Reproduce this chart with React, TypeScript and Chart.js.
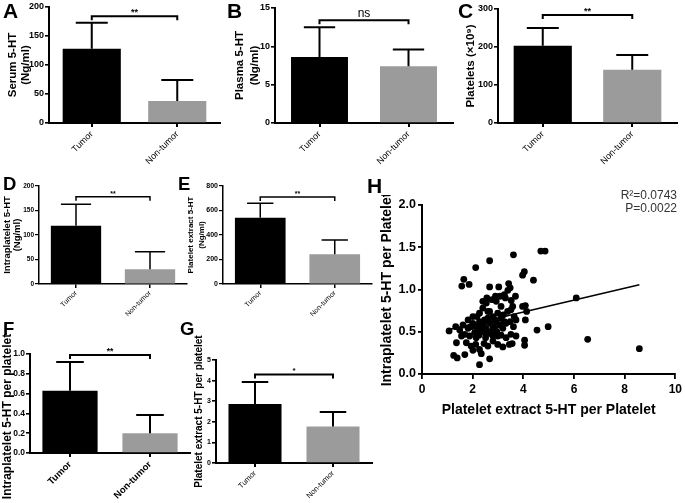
import React, { useEffect, useRef } from "react";
import { Chart, registerables } from "chart.js";

Chart.register(...registerables);

const FONT = "Arial, 'Liberation Sans', Helvetica, sans-serif";
Chart.defaults.font.family = FONT;
Chart.defaults.color = "#000";

// ---------- data ----------
const categories = ["Tumor", "Non-tumor"];
const barColors = ["#000000", "#9b9b9b"];

// A: Serum 5-HT
const serumMean = [128, 38];
const serumUpper = [173, 74];
const serumBracket = 184;
const serumSig = "**";
const serumTicks = [0, 50, 100, 150, 200];

// B: Plasma 5-HT
const plasmaMean = [8.6, 7.4];
const plasmaUpper = [12.5, 9.6];
const plasmaBracket = 13.4;
const plasmaSig = "ns";
const plasmaTicks = [0, 5, 10, 15];

// C: Platelets
const plateletMean = [203, 140];
const plateletUpper = [250, 179];
const plateletBracket = 284;
const plateletSig = "**";
const plateletTicks = [0, 100, 200, 300];

// D: Intraplatelet 5-HT
const intraMean = [119, 30];
const intraUpper = [163, 66];
const intraBracket = 178;
const intraSig = "**";
const intraTicks = [0, 50, 100, 150, 200];

// E: Platelet extract 5-HT
const extractMean = [540, 243];
const extractUpper = [660, 360];
const extractBracket = 710;
const extractSig = "**";
const extractTicks = [0, 200, 400, 600, 800];

// F: Intraplatelet 5-HT per platelet
const intraPerMean = [0.63, 0.2];
const intraPerUpper = [0.92, 0.385];
const intraPerBracket = 0.99;
const intraPerSig = "**";
const intraPerTicks = [0, 0.2, 0.4, 0.6, 0.8, 1.0];

// G: Platelet extract 5-HT per platelet
const extractPerMean = [2.87, 1.77];
const extractPerUpper = [3.93, 2.48];
const extractPerBracket = 4.3;
const extractPerSig = "*";
const extractPerTicks = [0, 1, 2, 3, 4, 5];

// H: scatter
const hPoints: [number, number][] = [
  [4.69, 1.455], [4.86, 1.455], [3.61, 1.41], [2.67, 1.34], [2.12, 1.26], [4.04, 1.21], [3.97, 1.17],
  [4.40, 1.11], [1.65, 1.12], [1.57, 1.04], [1.86, 1.06], [2.67, 1.03], [3.03, 1.03], [3.42, 1.07],
  [3.48, 1.02], [6.09, 0.90], [6.54, 0.41], [8.58, 0.30], [4.54, 0.52], [4.98, 0.56],
  [2.40, 0.86], [2.56, 0.90], [2.77, 0.88], [2.90, 0.92], [3.08, 0.92], [3.25, 0.94], [3.39, 0.99],
  [3.52, 0.87], [3.69, 0.92], [3.29, 0.90], [3.58, 0.80], [4.08, 0.81], [4.13, 0.74], [3.97, 0.80],
  [1.82, 0.64], [2.17, 0.68], [2.40, 0.78], [2.60, 0.74], [2.80, 0.68], [2.99, 0.72], [3.21, 0.70],
  [3.38, 0.74], [3.51, 0.76], [3.64, 0.68], [4.08, 0.64], [3.71, 0.64],
  [1.33, 0.56], [1.49, 0.52], [1.62, 0.58], [1.82, 0.54], [2.01, 0.60], [2.14, 0.56], [2.27, 0.62],
  [2.43, 0.58], [2.54, 0.53], [2.67, 0.60], [2.80, 0.56], [2.93, 0.62], [3.06, 0.58], [3.19, 0.54],
  [3.32, 0.60], [3.48, 0.62], [3.61, 0.56],
  [1.07, 0.51], [1.69, 0.47], [1.88, 0.45], [2.08, 0.49], [2.25, 0.46], [2.38, 0.50], [2.51, 0.43],
  [2.64, 0.48], [2.80, 0.45], [2.95, 0.50], [3.12, 0.46], [3.32, 0.43], [3.51, 0.47], [3.71, 0.45],
  [1.36, 0.37], [1.75, 0.37], [1.94, 0.33], [2.12, 0.35], [2.27, 0.29], [2.45, 0.36], [2.60, 0.33],
  [2.80, 0.39], [2.99, 0.35], [3.19, 0.32], [3.45, 0.35], [3.56, 0.36], [4.05, 0.40], [4.05, 0.34],
  [2.01, 0.28], [2.34, 0.24],
  [1.25, 0.22], [1.39, 0.19], [1.69, 0.23], [2.67, 0.18], [2.27, 0.11],
  [2.21, 0.52], [2.47, 0.64], [2.60, 0.66], [2.86, 0.64], [2.34, 0.56], [2.73, 0.50], [2.99, 0.45],
  [2.54, 0.49], [2.86, 0.54], [3.12, 0.66], [3.25, 0.62], [2.14, 0.43], [1.94, 0.56], [1.56, 0.45],
  [2.67, 0.74], [2.27, 0.72], [2.01, 0.68], [2.54, 0.84], [3.12, 0.80], [2.93, 0.86],
];
const fitX = [1.07, 8.58];
const fitY = [0.527, 1.057];
const hXTicks = [0, 2, 4, 6, 8, 10];
const hYTicks = [0, 0.5, 1.0, 1.5, 2.0];
const hStats = ["R²=0.0743", "P=0.0022"];

// ---------- layout ----------
type Rect = { l: number; t: number; r: number; b: number };
type BarCfg = {
  id: string;
  means: number[];
  upper: number[];
  bracket: number;
  sig: string;
  ticks: number[];
  decimals: number;
  title: string | string[];
  plot: Rect;
  canvas: Rect;
  titleX: number;
  titleCY?: number;
  titleSize: number;
  titleLH: number;
  tickSize: number;
  catSize: number;
  catBold: boolean;
  catPad: number;
  sigSize: number;
  sigBold: boolean;
  sigGap: number;
  lw: number;
  axisW: number;
  barPct: number;
  capFrac: number;
};

const barPanels: BarCfg[] = [
  {
    id: "A", means: serumMean, upper: serumUpper, bracket: serumBracket, sig: serumSig, ticks: serumTicks, decimals: 0,
    title: ["Serum 5-HT", "(Ng/ml)"],
    plot: { l: 49, t: 7, r: 220, b: 123 }, canvas: { l: 0, t: 0, r: 226, b: 170 },
    titleX: 12.7, titleSize: 11.5, titleLH: 1.15, tickSize: 9, catSize: 9, catBold: false, catPad: 2,
    sigSize: 9, sigBold: true, sigGap: 1, lw: 2, axisW: 2, barPct: 0.68, capFrac: 0.55,
  },
  {
    id: "B", means: plasmaMean, upper: plasmaUpper, bracket: plasmaBracket, sig: plasmaSig, ticks: plasmaTicks, decimals: 0,
    title: ["Plasma 5-HT", "(Ng/ml)"],
    plot: { l: 275, t: 8, r: 453, b: 123 }, canvas: { l: 228, t: 0, r: 457, b: 170 },
    titleX: 240, titleSize: 11.5, titleLH: 1.25, tickSize: 9, catSize: 9, catBold: false, catPad: 2,
    sigSize: 12, sigBold: false, sigGap: 3, lw: 2, axisW: 2, barPct: 0.64, capFrac: 0.55,
  },
  {
    id: "C", means: plateletMean, upper: plateletUpper, bracket: plateletBracket, sig: plateletSig, ticks: plateletTicks, decimals: 0,
    title: "Platelets (×10⁹)",
    plot: { l: 498, t: 9, r: 677, b: 123 }, canvas: { l: 458, t: 0, r: 685, b: 170 },
    titleX: 471, titleSize: 11.5, titleLH: 1.2, tickSize: 9, catSize: 9, catBold: false, catPad: 2,
    sigSize: 9, sigBold: true, sigGap: 1, lw: 2, axisW: 2, barPct: 0.65, capFrac: 0.55,
  },
  {
    id: "D", means: intraMean, upper: intraUpper, bracket: intraBracket, sig: intraSig, ticks: intraTicks, decimals: 0,
    title: ["Intraplatelet 5-HT", "(Ng/ml)"],
    plot: { l: 39, t: 186, r: 187, b: 284 }, canvas: { l: 0, t: 174, r: 192, b: 330 },
    titleX: 7.5, titleSize: 9.5, titleLH: 1.05, tickSize: 6.5, catSize: 7, catBold: false, catPad: 1,
    sigSize: 7, sigBold: true, sigGap: 1, lw: 1.5, axisW: 1.5, barPct: 0.68, capFrac: 0.6,
  },
  {
    id: "E", means: extractMean, upper: extractUpper, bracket: extractBracket, sig: extractSig, ticks: extractTicks, decimals: 0,
    title: ["Platelet extract 5-HT", "(Ng/ml)"],
    plot: { l: 223, t: 186, r: 372, b: 284 }, canvas: { l: 180, t: 174, r: 377, b: 330 },
    titleX: 191, titleSize: 8, titleLH: 1.4, tickSize: 7, catSize: 7, catBold: false, catPad: 1,
    sigSize: 7, sigBold: true, sigGap: 1, lw: 1.5, axisW: 1.5, barPct: 0.68, capFrac: 0.52,
  },
  {
    id: "F", means: intraPerMean, upper: intraPerUpper, bracket: intraPerBracket, sig: intraPerSig, ticks: intraPerTicks, decimals: 1,
    title: "Intraplatelet 5-HT per platelet",
    plot: { l: 30, t: 354, r: 190, b: 453 }, canvas: { l: 0, t: 312, r: 194, b: 503 },
    titleX: 7.5, titleCY: 416.5, titleSize: 12, titleLH: 1.2, tickSize: 8.5, catSize: 9.5, catBold: true, catPad: 2,
    sigSize: 8.5, sigBold: true, sigGap: 1, lw: 2, axisW: 2, barPct: 0.69, capFrac: 0.5,
  },
  {
    id: "G", means: extractPerMean, upper: extractPerUpper, bracket: extractPerBracket, sig: extractPerSig, ticks: extractPerTicks, decimals: 0,
    title: "Platelet extract 5-HT per platelet",
    plot: { l: 216, t: 360, r: 372, b: 463 }, canvas: { l: 185, t: 318, r: 377, b: 503 },
    titleX: 199, titleSize: 10, titleLH: 1.2, tickSize: 7, catSize: 7.5, catBold: false, catPad: 2,
    sigSize: 8, sigBold: true, sigGap: 1, lw: 2, axisW: 2, barPct: 0.68, capFrac: 0.5,
  },
];

const letters = [
  { t: "A", x: 3, y: 0, s: 21 },
  { t: "B", x: 227, y: 0, s: 21 },
  { t: "C", x: 458, y: 0, s: 21 },
  { t: "D", x: 3, y: 175, s: 18.5 },
  { t: "E", x: 178, y: 175, s: 18.5 },
  { t: "F", x: 3, y: 320, s: 18.5 },
  { t: "G", x: 180, y: 320, s: 18.5 },
  { t: "H", x: 367, y: 174.5, s: 21 },
];

function BarPanel({ cfg }: { cfg: BarCfg }) {
  const ref = useRef<HTMLCanvasElement>(null);
  useEffect(() => {
    const c = cfg;
    const leftW = c.plot.l - c.canvas.l;
    const bottomH = c.canvas.b - c.plot.b;
    const topPad = c.plot.t - c.canvas.t;
    const rightPad = c.canvas.r - c.plot.r;
    const lh = c.titleSize * c.titleLH;
    const titlePad = c.titleX - c.canvas.l - lh / 2;
    const customTitle = typeof c.titleCY === "number";

    const errPlugin = {
      id: "errbars" + c.id,
      afterDatasetsDraw(chart: any) {
        const ctx = chart.ctx;
        const meta = chart.getDatasetMeta(0);
        const ys = chart.scales.y;
        ctx.save();
        ctx.strokeStyle = "#000";
        ctx.lineWidth = c.lw;
        ctx.lineCap = "butt";
        meta.data.forEach((bar: any, i: number) => {
          const x = bar.x;
          const half = (bar.width * c.capFrac) / 2;
          const y0 = ys.getPixelForValue(c.means[i]);
          const y1 = ys.getPixelForValue(c.upper[i]);
          ctx.beginPath();
          ctx.moveTo(x, y0);
          ctx.lineTo(x, y1);
          ctx.moveTo(x - half, y1);
          ctx.lineTo(x + half, y1);
          ctx.stroke();
        });
        const yb = ys.getPixelForValue(c.bracket);
        const x0 = meta.data[0].x;
        const x1 = meta.data[1].x;
        const drop = 4;
        ctx.beginPath();
        ctx.moveTo(x0, yb + drop);
        ctx.lineTo(x0, yb);
        ctx.lineTo(x1, yb);
        ctx.lineTo(x1, yb + drop);
        ctx.stroke();
        ctx.fillStyle = "#000";
        ctx.font = `${c.sigBold ? "bold " : ""}${c.sigSize}px ${FONT}`;
        ctx.textAlign = "center";
        ctx.textBaseline = "alphabetic";
        ctx.fillText(c.sig, (x0 + x1) / 2, yb - c.sigGap);
        if (customTitle) {
          ctx.translate(c.titleX - c.canvas.l, (c.titleCY as number) - c.canvas.t);
          ctx.rotate(-Math.PI / 2);
          ctx.font = `bold ${c.titleSize}px ${FONT}`;
          ctx.textBaseline = "middle";
          ctx.fillText(String(c.title), 0, 0);
        }
        ctx.restore();
      },
    };

    const chart = new Chart(ref.current as HTMLCanvasElement, {
      type: "bar",
      data: {
        labels: categories,
        datasets: [
          {
            data: c.means,
            backgroundColor: barColors,
            borderWidth: 0,
            barPercentage: c.barPct,
            categoryPercentage: 1,
          },
        ],
      },
      options: {
        responsive: false,
        maintainAspectRatio: false,
        animation: false,
        layout: { padding: { top: topPad, right: rightPad, left: 0, bottom: 0 } },
        plugins: { legend: { display: false }, tooltip: { enabled: false } },
        scales: {
          x: {
            offset: true,
            grid: {
              display: true,
              drawOnChartArea: false,
              drawTicks: true,
              tickLength: 4,
              color: "#000",
              lineWidth: c.axisW,
              offset: false,
            },
            border: { display: true, color: "#000", width: c.axisW },
            ticks: {
              color: "#000",
              font: { size: c.catSize, weight: c.catBold ? "bold" : "normal", family: FONT },
              minRotation: 45,
              maxRotation: 45,
              autoSkip: false,
              padding: c.catPad,
            },
            afterFit: (s: any) => {
              s.height = bottomH;
            },
          },
          y: {
            min: c.ticks[0],
            max: c.ticks[c.ticks.length - 1],
            afterBuildTicks: (s: any) => {
              s.ticks = c.ticks.map((v) => ({ value: v }));
            },
            ticks: {
              color: "#000",
              font: { size: c.tickSize, weight: "bold", family: FONT },
              padding: 1,
              callback: (v: any) => Number(v).toFixed(c.decimals),
            },
            grid: {
              display: true,
              drawOnChartArea: false,
              drawTicks: true,
              tickLength: 4,
              color: "#000",
              lineWidth: c.axisW * 0.8,
            },
            border: { display: true, color: "#000", width: c.axisW },
            title: {
              display: !customTitle,
              text: c.title,
              color: "#000",
              font: { size: c.titleSize, weight: "bold", family: FONT, lineHeight: c.titleLH },
              padding: { top: titlePad, bottom: 0 },
            },
            afterFit: (s: any) => {
              s.width = leftW;
            },
          },
        },
      },
      plugins: [errPlugin],
    } as any);
    return () => chart.destroy();
  }, [cfg]);
  const w = cfg.canvas.r - cfg.canvas.l;
  const h = cfg.canvas.b - cfg.canvas.t;
  return (
    <canvas
      ref={ref}
      width={w}
      height={h}
      style={{ position: "absolute", left: cfg.canvas.l, top: cfg.canvas.t, width: w, height: h }}
    />
  );
}

const hPlot: Rect = { l: 422, t: 205, r: 677, b: 374 };
const hCanvas: Rect = { l: 370, t: 195, r: 685, b: 422 };

function ScatterPanel() {
  const ref = useRef<HTMLCanvasElement>(null);
  useEffect(() => {
    const leftW = hPlot.l - hCanvas.l;
    const bottomH = hCanvas.b - hPlot.b;
    const titleSize = 14;
    const lh = titleSize * 1.2;
    const chart = new Chart(ref.current as HTMLCanvasElement, {
      type: "scatter",
      data: {
        datasets: [
          {
            type: "scatter",
            data: hPoints.map(([x, y]) => ({ x, y })),
            backgroundColor: "#000",
            borderColor: "#000",
            pointRadius: 3.4,
            borderWidth: 0,
          },
          {
            type: "line",
            data: fitX.map((x, i) => ({ x, y: fitY[i] })),
            borderColor: "#000",
            borderWidth: 1.6,
            pointRadius: 0,
            fill: false,
          },
        ],
      },
      options: {
        responsive: false,
        maintainAspectRatio: false,
        animation: false,
        layout: {
          padding: { top: hPlot.t - hCanvas.t, right: hCanvas.r - hPlot.r, left: 0, bottom: 0 },
        },
        plugins: { legend: { display: false }, tooltip: { enabled: false } },
        scales: {
          x: {
            type: "linear",
            min: hXTicks[0],
            max: hXTicks[hXTicks.length - 1],
            afterBuildTicks: (s: any) => {
              s.ticks = hXTicks.map((v) => ({ value: v }));
            },
            ticks: {
              color: "#000",
              font: { size: 12, weight: "bold", family: FONT },
              padding: 3,
              callback: (v: any) => String(v),
            },
            grid: { display: true, drawOnChartArea: false, tickLength: 5, color: "#000", lineWidth: 1.8 },
            border: { display: true, color: "#000", width: 2 },
            title: {
              display: true,
              text: "Platelet extract 5-HT per Platelet",
              color: "#000",
              font: { size: titleSize, weight: "bold", family: FONT, lineHeight: 1.2 },
              padding: { top: 0, bottom: bottomH - (410 - hPlot.b) - lh / 2 },
            },
            afterFit: (s: any) => {
              s.height = bottomH;
            },
          },
          y: {
            type: "linear",
            min: hYTicks[0],
            max: hYTicks[hYTicks.length - 1],
            afterBuildTicks: (s: any) => {
              s.ticks = hYTicks.map((v) => ({ value: v }));
            },
            ticks: {
              color: "#000",
              font: { size: 12.5, weight: "bold", family: FONT },
              padding: 2,
              callback: (v: any) => Number(v).toFixed(1),
            },
            grid: { display: true, drawOnChartArea: false, tickLength: 4, color: "#000", lineWidth: 1.8 },
            border: { display: true, color: "#000", width: 2 },
            title: {
              display: true,
              text: "Intraplatelet 5-HT per Platelet",
              color: "#000",
              font: { size: titleSize, weight: "bold", family: FONT, lineHeight: 1.2 },
              padding: { top: 387.5 - hCanvas.l - lh / 2, bottom: 0 },
            },
            afterFit: (s: any) => {
              s.width = leftW;
            },
          },
        },
      },
    } as any);
    return () => chart.destroy();
  }, []);
  const w = hCanvas.r - hCanvas.l;
  const h = hCanvas.b - hCanvas.t;
  return (
    <canvas
      ref={ref}
      width={w}
      height={h}
      style={{ position: "absolute", left: hCanvas.l, top: hCanvas.t, width: w, height: h }}
    />
  );
}

export default function App() {
  return (
    <div
      style={{
        position: "absolute",
        left: 0,
        top: 0,
        width: 685,
        height: 503,
        background: "#fff",
        overflow: "hidden",
        fontFamily: FONT,
      }}
    >
      {barPanels.map((p) => (
        <BarPanel key={p.id} cfg={p} />
      ))}
      <ScatterPanel />
      {letters.map((L) => (
        <div
          key={L.t}
          style={{
            position: "absolute",
            left: L.x,
            top: L.y,
            fontSize: L.s,
            lineHeight: `${L.s}px`,
            fontWeight: "bold",
            color: "#000",
          }}
        >
          {L.t}
        </div>
      ))}
      <div
        style={{
          position: "absolute",
          left: 577,
          top: 189,
          width: 100,
          textAlign: "right",
          fontSize: 12,
          lineHeight: "13px",
          color: "#333",
        }}
      >
        {hStats.map((s) => (
          <div key={s}>{s}</div>
        ))}
      </div>
    </div>
  );
}
